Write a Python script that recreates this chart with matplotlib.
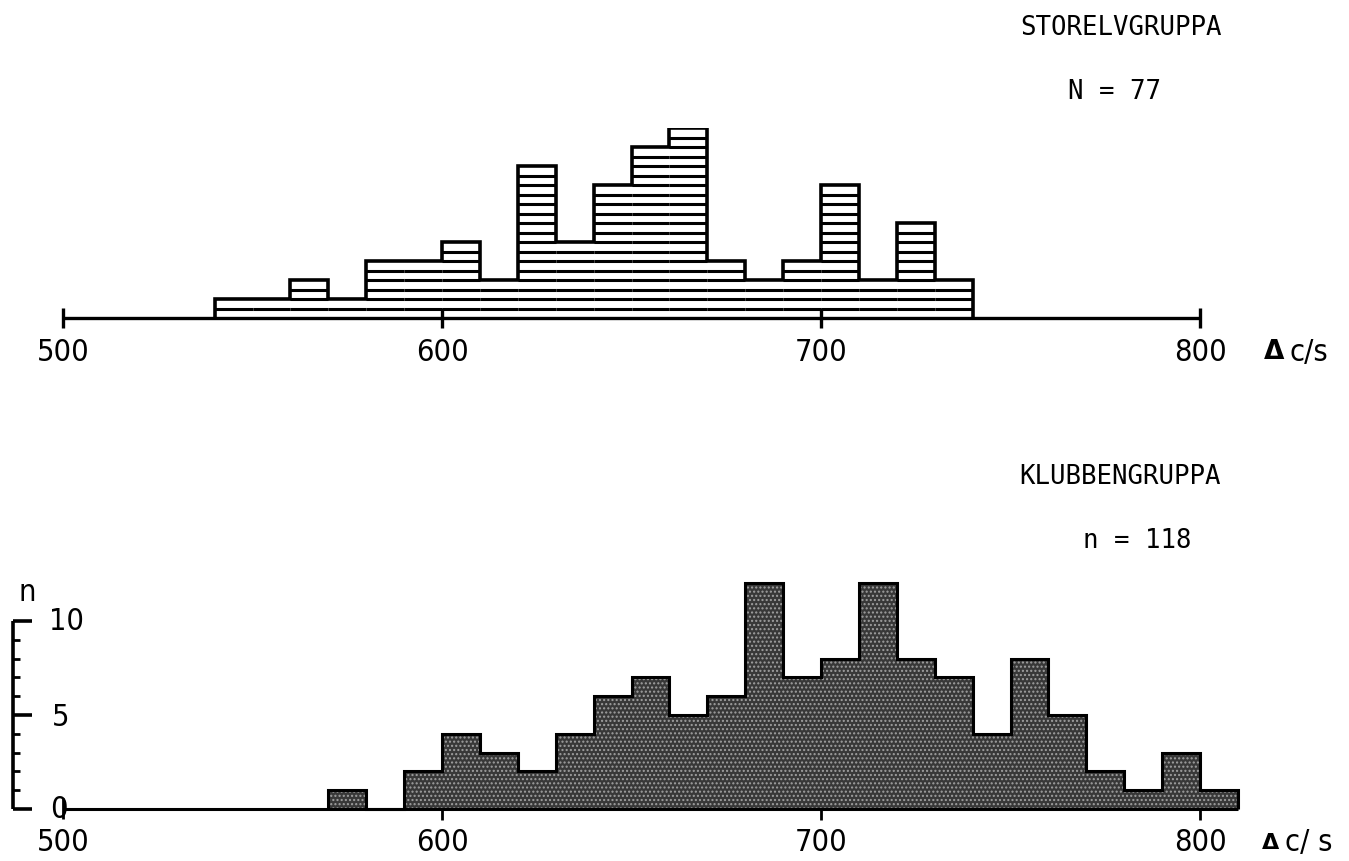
import numpy as np
import matplotlib
matplotlib.use("Agg")
import matplotlib.pyplot as plt

# counts per 10 c/s class
top_edges = np.arange(540, 750, 10)
top_counts = [1, 1, 2, 1, 3, 3, 4, 2, 8, 4, 7, 9, 10, 3, 2, 3, 7, 2, 5, 2]

bot_edges = np.arange(570, 820, 10)
bot_counts = [1, 0, 2, 4, 3, 2, 4, 6, 7, 5, 6, 12, 7, 8, 12, 8, 7, 4, 8, 5, 2, 1, 3, 1]

x_ticks = [500, 600, 700, 800]

W, H = 1349, 861
fig = plt.figure(figsize=(W / 100, H / 100), dpi=100)

num_kw = dict(family=['DejaVu Sans'], stretch='condensed', fontsize=22,
              clip_on=False)
mono_font = ['DejaVu Sans Mono']

def px_axes(x0, x1, ybase, ytop):
    return fig.add_axes([x0 / W, 1 - ybase / H, (x1 - x0) / W, (ybase - ytop) / H])

# ---------------- top: Storelvgruppa ----------------
ax1 = px_axes(63, 1200, 318, 128)
ax1.set_xlim(500, 800)
ax1.set_ylim(0, 10)
ax1.set_axis_off()

ax1.stairs(top_counts, top_edges, baseline=0, fill=True, facecolor='white',
           edgecolor='none')
# horizontal line shading, two lines per count
for left, h in zip(top_edges[:-1], top_counts):
    ys = np.arange(0.5, h, 0.5)
    ax1.hlines(ys, left, left + 10, color='black', lw=2.2)
ax1.stairs(top_counts, top_edges, baseline=0, fill=False, color='black', lw=2.6)

ax1.hlines(0, 500, 800, color='black', lw=2.4, clip_on=False)
ax1.vlines(x_ticks, -0.55, 0.55, color='black', lw=2.4, clip_on=False)
for v in x_ticks:
    ax1.text(v, -1.8, str(v), ha='center', va='center', **num_kw)
ax1.text(819.5, -1.8, 'Δ', ha='center', va='center', fontsize=19,
         fontweight='heavy', family=['DejaVu Sans'], clip_on=False)
ax1.text(823.5, -1.8, 'c/s', ha='left', va='center', **num_kw)

fig.text(1121 / W, 1 - 28 / H, 'STORELVGRUPPA', ha='center', va='center',
         fontsize=18.5, family=mono_font)
fig.text(1114 / W, 1 - 92 / H, 'N = 77', ha='center', va='center',
         fontsize=18.5, family=mono_font)

# ---------------- bottom: Klubbengruppa ----------------
ax2 = px_axes(63, 1200, 809, 621)
ax2.set_xlim(500, 800)
ax2.set_ylim(0, 10)
ax2.set_axis_off()

ax2.stairs(bot_counts, bot_edges, baseline=0, fill=True, facecolor='#383838',
           edgecolor='#a0a0a0', hatch='....', lw=0, clip_on=False)
ax2.stairs(bot_counts, bot_edges, baseline=0, fill=False, color='black',
           lw=2.2, clip_on=False)

ax2.hlines(0, 500, 810, color='black', lw=2.2, clip_on=False)
ax2.vlines(x_ticks[1:], -0.6, 0, color='black', lw=2.0, clip_on=False)
ax2.vlines(500, -0.55, 0.6, color='black', lw=2.0, clip_on=False)
for v in x_ticks:
    ax2.text(v, -1.8, str(v), ha='center', va='center', **num_kw)
ax2.text(818.5, -1.8, 'Δ', ha='center', va='center', fontsize=16,
         fontweight='heavy', family=['DejaVu Sans'], clip_on=False)
ax2.text(822.5, -1.8, 'c/ s', ha='left', va='center', **num_kw)

# hand-drawn style count axis
x_ax = 500 + (13 - 63) / 3.79
ax2.vlines(x_ax, 0, 10, color='black', lw=2.6, clip_on=False)
for k in range(0, 11):
    length = 5.0 if k in (0, 5, 10) else 1.9
    ax2.hlines(k, x_ax, x_ax + length, color='black',
               lw=2.6 if k in (0, 5, 10) else 2.0, clip_on=False)
ax2.text(501, 10, '10', ha='center', va='center', **num_kw)
ax2.text(499.5, 4.85, '5', ha='center', va='center', **num_kw)
ax2.text(499, -0.05, '0', ha='center', va='center', **num_kw)
ax2.text(490.5, 11.5, 'n', ha='center', va='center', **num_kw)

fig.text(1120 / W, 1 - 477 / H, 'KLUBBENGRUPPA', ha='center', va='center',
         fontsize=18.5, family=mono_font)
fig.text(1137 / W, 1 - 541 / H, 'n = 118', ha='center', va='center',
         fontsize=18.5, family=mono_font)

fig.savefig('out.png', dpi=100)
